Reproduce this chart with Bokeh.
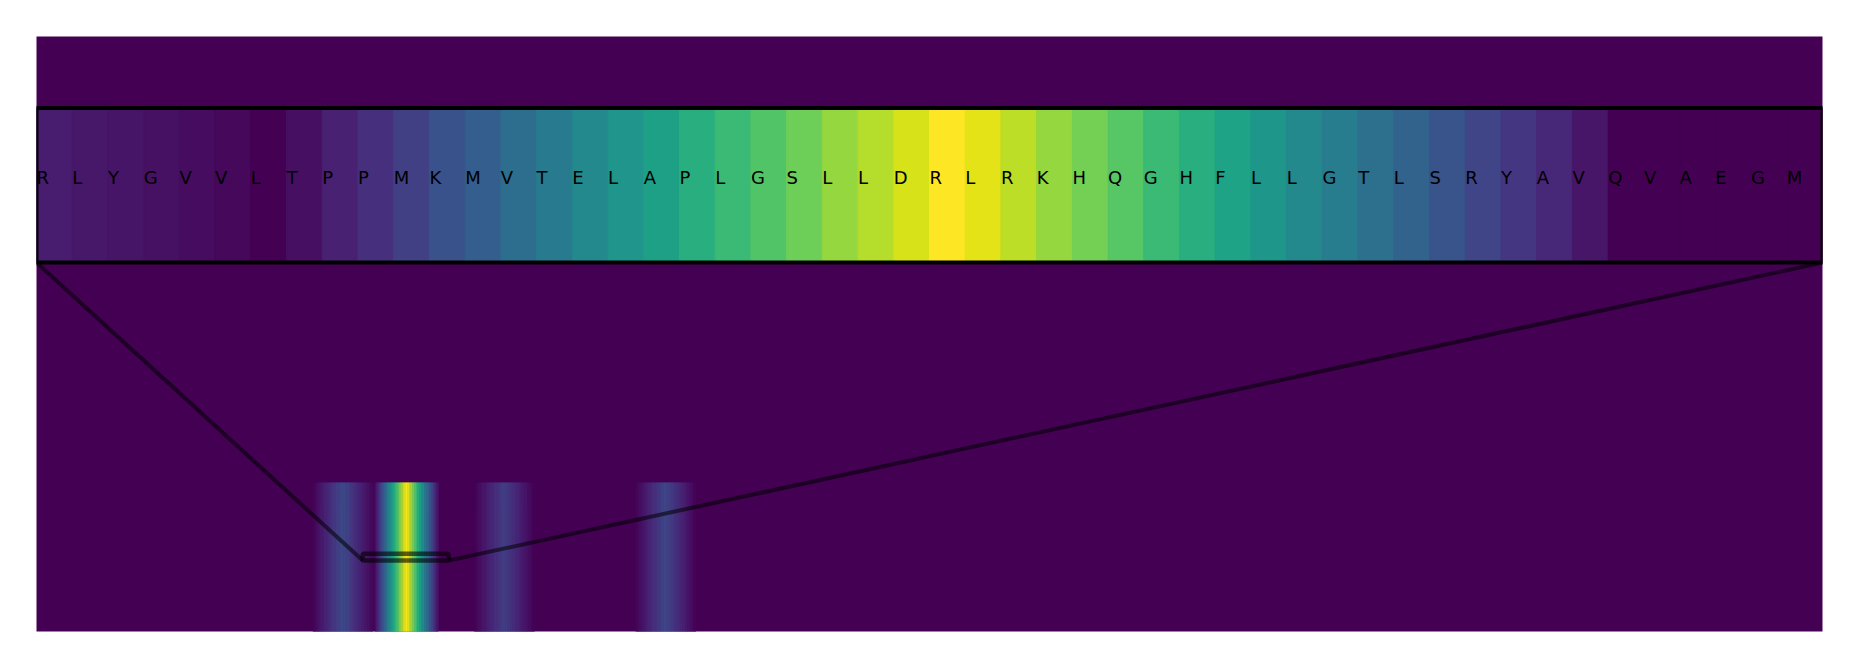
import numpy as np
from bokeh.plotting import figure
from bokeh.models import Range1d, LinearColorMapper, ColumnDataSource
from bokeh.palettes import Viridis256
from bokeh.embed import file_html
from bokeh.resources import INLINE
from bokeh.core.properties import value
from bokeh.transform import transform

# ---------------- data ----------------
N_RES = 1040          # residues along the sequence (heat-map columns)
N_ROWS = 4            # heat-map rows (only the bottom row carries signal)

# zoomed window
inset_start = 190
inset_sequence = list("RLYGVVLTPPMKMVTELAPLGSLLDRLRKHQGHFLLGTLSRYAVQVAEGM")
inset_values = [
    0.075, 0.065, 0.055, 0.045, 0.035, 0.022, 0.000, 0.040, 0.090, 0.140,
    0.190, 0.250, 0.300, 0.360, 0.410, 0.470, 0.520, 0.570, 0.630, 0.680,
    0.730, 0.780, 0.840, 0.890, 0.940, 1.000, 0.960, 0.900, 0.840, 0.790,
    0.740, 0.680, 0.630, 0.580, 0.530, 0.470, 0.420, 0.370, 0.320, 0.260,
    0.210, 0.160, 0.110, 0.060, 0.000, 0.000, 0.000, 0.000, 0.000, 0.000,
]

# other signal bands in the full-length row
band1_start = 160
band1_values = [
    0.000, 0.013, 0.026, 0.038, 0.051, 0.064, 0.077, 0.089, 0.102, 0.115,
    0.128, 0.141, 0.153, 0.166, 0.179, 0.192, 0.204, 0.217, 0.230, 0.217,
    0.204, 0.192, 0.179, 0.166, 0.153, 0.141, 0.128, 0.115, 0.102, 0.089,
]
band3_start = 254
band3_values = [
    0.000, 0.011, 0.021, 0.032, 0.042, 0.053, 0.063, 0.074, 0.084, 0.095,
    0.106, 0.116, 0.127, 0.137, 0.148, 0.158, 0.169, 0.179, 0.190, 0.179,
    0.169, 0.158, 0.148, 0.137, 0.127, 0.116, 0.106, 0.095, 0.084, 0.074,
    0.063, 0.053, 0.042, 0.032, 0.021, 0.011, 0.000,
]
band4_start = 348
band4_values = [
    0.000, 0.012, 0.024, 0.037, 0.049, 0.061, 0.073, 0.086, 0.098, 0.110,
    0.122, 0.134, 0.147, 0.159, 0.171, 0.183, 0.196, 0.208, 0.220, 0.208,
    0.196, 0.183, 0.171, 0.159, 0.147, 0.134, 0.122, 0.110, 0.098, 0.086,
    0.073, 0.061, 0.049, 0.037, 0.024, 0.012, 0.000,
]

# ---------------- build the signal row ----------------
row = np.zeros(N_RES)
for start, vals in [(band1_start, band1_values), (band3_start, band3_values),
                    (band4_start, band4_values), (inset_start, inset_values)]:
    row[start:start + len(vals)] = vals

mapper = LinearColorMapper(palette=Viridis256, low=0.0, high=1.0)

# layout constants (main data coords: y 0..4, rows bottom->top)
INSET_BOTTOM = 2.48
INSET_TOP = 3.52
TEXT_Y = 3.052
ZOOM_Y0 = 0.477
ZOOM_Y1 = 0.523

p = figure(width=1857, height=667, output_backend="svg", toolbar_location=None,
           x_range=Range1d(-0.5, N_RES - 0.5), y_range=Range1d(0, N_ROWS),
           x_axis_location=None, y_axis_location=None,
           min_border_left=36, min_border_right=35,
           min_border_top=36, min_border_bottom=36)
p.outline_line_color = None
p.background_fill_color = Viridis256[0]
p.border_fill_color = "white"
p.grid.visible = False

# main heat map: signal row (bottom); the other rows are zero = background
cols = np.arange(N_RES)
nz = row > 0
main_src = ColumnDataSource(dict(left=cols[nz] - 0.5, right=cols[nz] + 0.5,
                                 val=row[nz]))
p.quad(left="left", right="right", bottom=0, top=1, source=main_src,
       fill_color=transform("val", mapper),
       line_color=transform("val", mapper), line_width=0.6)

# zoom indicator rectangle
p.quad(left=[inset_start - 0.5], right=[inset_start + len(inset_values) - 0.5],
       bottom=[ZOOM_Y0], top=[ZOOM_Y1], fill_color=None,
       line_color="black", line_alpha=0.6, line_width=4.5)

# connectors
p.segment(x0=[-0.5, N_RES - 0.5], y0=[INSET_BOTTOM, INSET_BOTTOM],
          x1=[inset_start - 0.5, inset_start + len(inset_values) - 0.5],
          y1=[ZOOM_Y0, ZOOM_Y0],
          line_color="black", line_alpha=0.55, line_width=4)

# inset (zoomed) panel
p.extra_x_ranges = {"inset": Range1d(inset_start - 0.5,
                                      inset_start + len(inset_values) - 0.5)}
res = np.arange(inset_start, inset_start + len(inset_values))
src = ColumnDataSource(dict(left=res - 0.5, right=res + 0.5,
                            val=inset_values, seq=inset_sequence))
p.quad(left="left", right="right", bottom=INSET_BOTTOM, top=INSET_TOP,
       source=src, x_range_name="inset",
       fill_color=transform("val", mapper),
       line_color=transform("val", mapper), line_width=1)
p.text(x="left", y=TEXT_Y, text="seq", source=src, x_range_name="inset",
       text_align="left", text_baseline="alphabetic",
       text_font=value("DejaVu Sans"), text_font_size="18px",
       text_color="black")
p.quad(left=[-0.5], right=[N_RES - 0.5], bottom=[INSET_BOTTOM], top=[INSET_TOP],
       fill_color=None, line_color="black", line_width=4)

open("out.html", "w").write(file_html(p, INLINE))
